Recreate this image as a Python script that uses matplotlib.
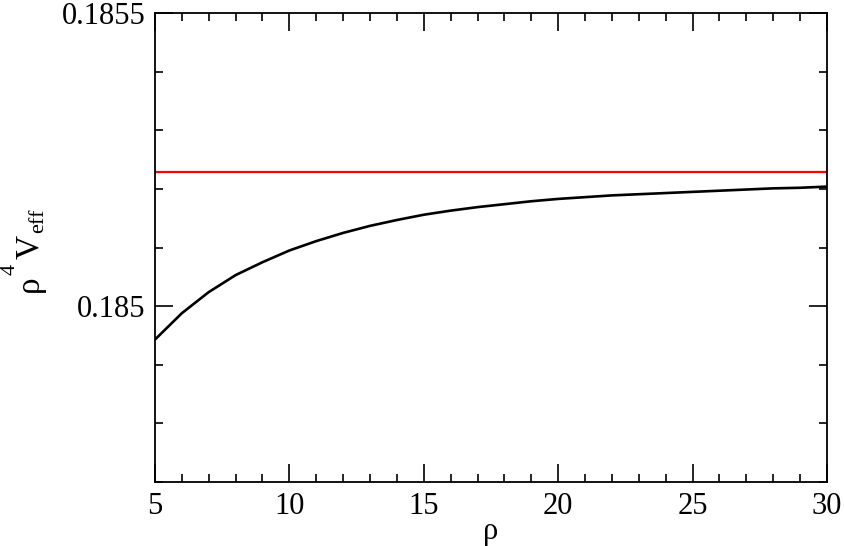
#!/usr/bin/env python3
""" Effective potential rho^4 V_eff versus rho, with asymptotic value.
"""

import matplotlib
matplotlib.use("Agg")
import matplotlib.pyplot as plt
from matplotlib.ticker import MultipleLocator, FuncFormatter

rho = [5, 6, 7, 8, 9, 10, 11, 12, 13, 14, 15, 16, 17, 18, 19, 20,
       21, 22, 23, 24, 25, 26, 27, 28, 29, 30]
v_eff = [0.184943, 0.184988, 0.185024, 0.185053, 0.185075, 0.185095,
         0.185111, 0.185125, 0.185137, 0.185147, 0.185156, 0.185163,
         0.185169, 0.185174, 0.185179, 0.185183, 0.185186, 0.185189,
         0.185191, 0.185193, 0.185195, 0.185197, 0.185199, 0.185201,
         0.185202, 0.185204]
asymptote = 0.185229

plt.rcParams['font.family'] = ['Liberation Serif', 'DejaVu Serif']

W, H = 845, 546
fig = plt.figure(figsize=(W / 100, H / 100), dpi=100)
ax = fig.add_axes([0.1834, 0.1172, 0.7953, 0.8588])

ax.axhline(asymptote, color='red', lw=1.6)
ax.plot(rho, v_eff, color='black', lw=1.9)

ax.set_xlim(5, 30)
ax.set_ylim(0.1847, 0.1855)
ax.xaxis.set_major_locator(MultipleLocator(5))
ax.xaxis.set_minor_locator(MultipleLocator(1))
ax.yaxis.set_major_locator(MultipleLocator(0.0005))
ax.yaxis.set_minor_locator(MultipleLocator(0.0001))
ax.yaxis.set_major_formatter(FuncFormatter(lambda v, p: f"{v:g}"))

ax.tick_params(which='both', direction='in', top=True, right=True,
               labelsize=22, width=1.2)
ax.tick_params(which='major', length=13, pad=7)
ax.tick_params(which='minor', length=6)
for s in ax.spines.values():
    s.set_linewidth(1.3)

ax.set_xlabel("ρ", fontsize=22, labelpad=-3)

# y label built from pieces, xmgrace style (raised superscript)
lab = dict(rotation=90, rotation_mode='anchor', ha='left', va='baseline')
fig.text(38 / W, 1 - 292 / H, "ρ", fontsize=24, **lab)
fig.text(15 / W, 1 - 275 / H, "4", fontsize=16, **lab)
fig.text(38 / W, 1 - 259 / H, "V", fontsize=24, **lab)
fig.text(43 / W, 1 - 233 / H, "eff", fontsize=16, **lab)

fig.savefig("out.png", dpi=100)
